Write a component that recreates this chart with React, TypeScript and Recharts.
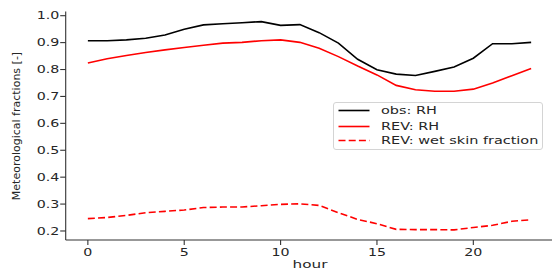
import React from "react";
import { LineChart, Line, XAxis, YAxis, Legend } from "recharts";

const hours = [0, 1, 2, 3, 4, 5, 6, 7, 8, 9, 10, 11, 12, 13, 14, 15, 16, 17, 18, 19, 20, 21, 22, 23];
const obsRH = [0.907, 0.907, 0.91, 0.916, 0.928, 0.95, 0.966, 0.97, 0.974, 0.978, 0.964, 0.967, 0.937, 0.898, 0.838, 0.799, 0.783, 0.778, 0.793, 0.809, 0.842, 0.896, 0.896, 0.901];
const revRH = [0.824, 0.84, 0.852, 0.863, 0.873, 0.882, 0.89, 0.898, 0.901, 0.907, 0.91, 0.901, 0.879, 0.848, 0.813, 0.78, 0.741, 0.725, 0.719, 0.719, 0.727, 0.75, 0.777, 0.804];
const revWet = [0.246, 0.25, 0.258, 0.268, 0.273, 0.278, 0.287, 0.289, 0.289, 0.294, 0.299, 0.301, 0.295, 0.268, 0.243, 0.227, 0.206, 0.205, 0.205, 0.204, 0.213, 0.221, 0.236, 0.242];
const xTicks = [0, 5, 10, 15, 20];
const yTicks = [0.2, 0.3, 0.4, 0.5, 0.6, 0.7, 0.8, 0.9, 1.0];
const seriesNames = ["obs: RH", "REV: RH", "REV: wet skin fraction"];

const data = hours.map((h, i) => ({ hour: h, obs: obsRH[i], rev: revRH[i], wet: revWet[i] }));

const FONT = "'DejaVu Sans', sans-serif";
const TXT = "#262626";
const SX = 1.42;

const XTick = (props: any) => {
  const { x, y, payload } = props;
  return (
    <g transform={`translate(${x},${y})`}>
      <text transform={`scale(${SX},1)`} textAnchor="middle" dy="0.71em" fontSize={10} fontFamily={FONT} fill={TXT}>
        {payload.value}
      </text>
    </g>
  );
};

const YTick = (props: any) => {
  const { x, y, payload } = props;
  return (
    <g transform={`translate(${x},${y})`}>
      <text transform={`scale(${SX},1)`} textAnchor="end" dy="0.355em" fontSize={10} fontFamily={FONT} fill={TXT}>
        {Number(payload.value).toFixed(1)}
      </text>
    </g>
  );
};

const legendItems = [
  { name: seriesNames[0], color: "#000000", dash: undefined as string | undefined },
  { name: seriesNames[1], color: "#ff0000", dash: undefined as string | undefined },
  { name: seriesNames[2], color: "#ff0000", dash: "7 3.2" },
];

const renderLegend = () => (
  <div
    style={{
      position: "relative",
      width: 210,
      height: 48,
      border: "1px solid #d4d4d4",
      borderRadius: 3,
      background: "rgba(255,255,255,0.85)",
      boxSizing: "border-box",
      fontFamily: FONT,
    }}
  >
    {legendItems.map((it, i) => (
      <div key={it.name} style={{ position: "absolute", left: 0, top: [8.3, 24, 38][i] - 7.5, height: 15, width: 210 }}>
        <svg width={40} height={15} style={{ position: "absolute", left: 0, top: 0 }}>
          <line x1={4.5} x2={35.5} y1={7.5} y2={7.5} stroke={it.color} strokeWidth={1.6} strokeDasharray={it.dash} />
        </svg>
        <span
          style={{
            position: "absolute",
            left: 47,
            top: 0,
            lineHeight: "15px",
            fontSize: 10.5,
            color: TXT,
            whiteSpace: "nowrap",
            transform: `scaleX(1.375)`,
            transformOrigin: "left center",
          }}
        >
          {it.name}
        </span>
      </div>
    ))}
  </div>
);

export default function App() {
  return (
    <div style={{ position: "absolute", left: 0, top: 0, width: 552, height: 273, overflow: "hidden", background: "#fff" }}>
      <LineChart width={556} height={273} data={data} margin={{ top: 11.5, right: 2.7, left: 0, bottom: 0 }}>
        <XAxis
          dataKey="hour"
          type="number"
          domain={[-1.15, 24.15]}
          ticks={xTicks}
          interval={0}
          allowDataOverflow
          height={33}
          tickSize={5}
          tickMargin={4}
          tick={(p: any) => <XTick {...p} />}
          stroke="#333"
          axisLine={{ stroke: "#333", strokeWidth: 1.1 }}
          tickLine={{ stroke: "#333", strokeWidth: 1.1 }}
        />
        <XAxis
          xAxisId="top"
          orientation="top"
          dataKey="hour"
          type="number"
          domain={[-1.15, 24.15]}
          allowDataOverflow
          height={0}
          tick={false}
          tickLine={false}
          axisLine={{ stroke: "#333", strokeWidth: 1.1 }}
        />
        <YAxis
          type="number"
          domain={[0.1665, 1.0156]}
          ticks={yTicks}
          interval={0}
          allowDataOverflow
          width={65.7}
          tickSize={5.5}
          tickMargin={1}
          tick={(p: any) => <YTick {...p} />}
          axisLine={{ stroke: "#333", strokeWidth: 1.1 }}
          tickLine={{ stroke: "#333", strokeWidth: 1.1 }}
        />
        <Line type="linear" dataKey="obs" name={seriesNames[0]} stroke="#000000" strokeWidth={1.6} dot={false} isAnimationActive={false} />
        <Line type="linear" dataKey="rev" name={seriesNames[1]} stroke="#ff0000" strokeWidth={1.6} dot={false} isAnimationActive={false} />
        <Line type="linear" dataKey="wet" name={seriesNames[2]} stroke="#ff0000" strokeWidth={1.6} strokeDasharray="7 3.2" dot={false} isAnimationActive={false} />
        <Legend
          layout="vertical"
          align="center"
          verticalAlign="middle"
          content={renderLegend}
          wrapperStyle={{ position: "absolute", left: 333, top: 101.7, width: 210, height: 48, bottom: "auto", right: "auto", margin: 0 }}
        />
      </LineChart>
      <div
        style={{
          position: "absolute",
          left: 309.5,
          top: 258,
          fontFamily: FONT,
          fontSize: 10.5,
          color: TXT,
          whiteSpace: "nowrap",
          transform: `translateX(-50%) scaleX(1.45)`,
          lineHeight: "13px",
        }}
      >
        hour
      </div>
      <div
        style={{
          position: "absolute",
          left: 16,
          top: 126,
          fontFamily: FONT,
          fontSize: 11,
          color: TXT,
          whiteSpace: "nowrap",
          transform: "translate(-50%, -50%) rotate(-90deg)",
          lineHeight: "13px",
        }}
      >
        Meteorological fractions [-]
      </div>
    </div>
  );
}
